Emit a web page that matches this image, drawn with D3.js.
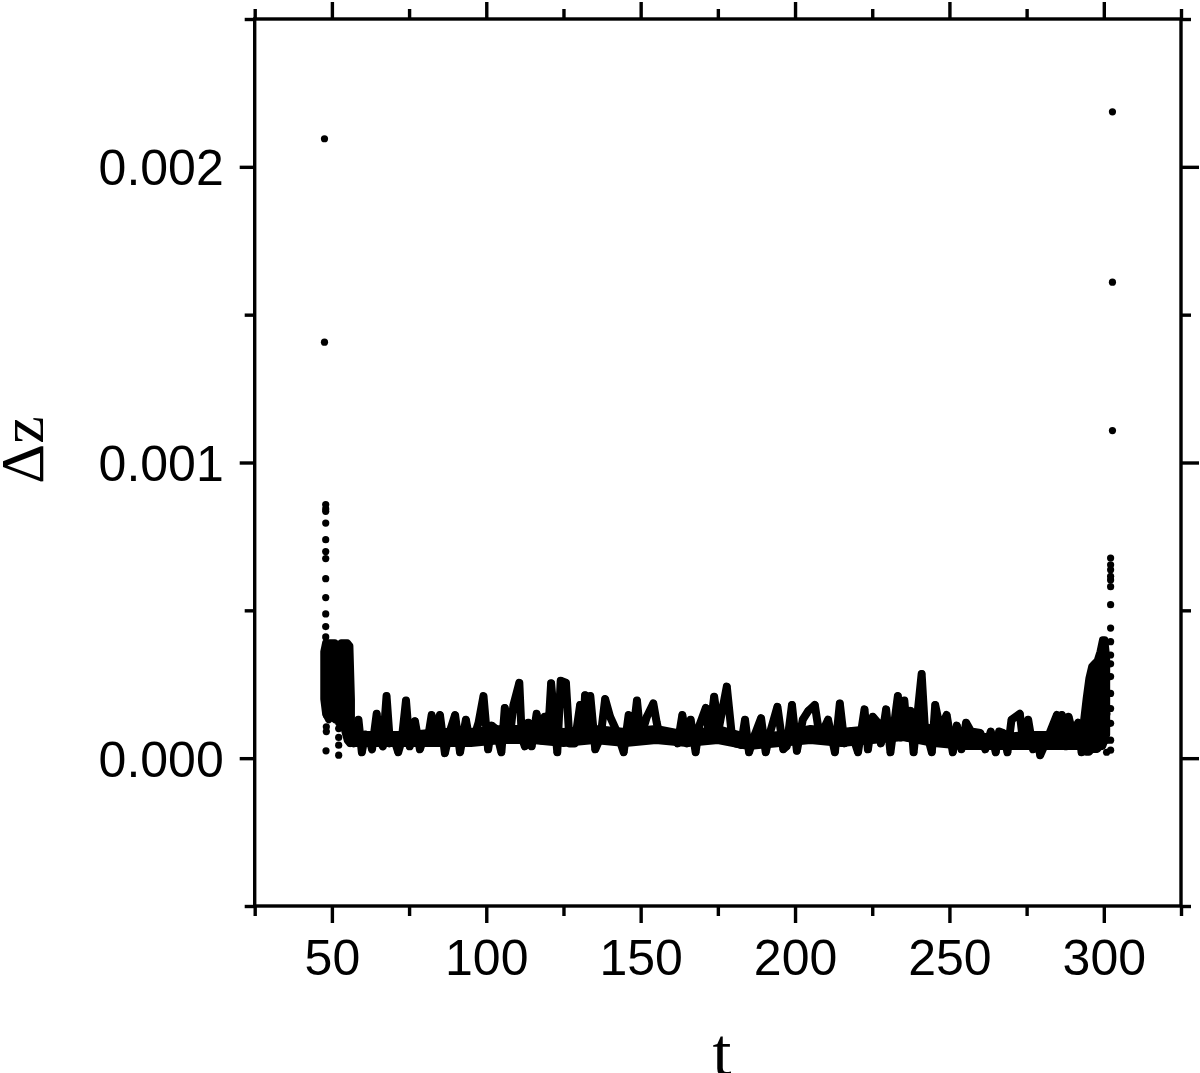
<!DOCTYPE html>
<html>
<head>
<meta charset="utf-8">
<script src="https://cdn.jsdelivr.net/npm/d3@7"></script>
<style>
  body { margin: 0; background: #fff; }
  .tick-label { font-family: "Liberation Sans", Arial, sans-serif; font-size: 50px; fill: #000; }
  .axis-title { font-family: "Liberation Serif", "Times New Roman", serif; fill: #000; }
</style>
</head>
<body>
<svg id="chart" width="1200" height="1073"></svg>
<script>
// Δz is kept in units of 1e-3 (the axis prints it back as 0.001, 0.002 ...)

// slow part of the signal, read peak by peak
var mainT = [56.0, 57.2, 58.6, 59.7, 60.8, 62.0, 63.0, 64.5, 65.5, 66.5, 67.7, 68.8, 70.0, 71.5, 72.6,
  74.0, 75.2, 76.9, 78.5, 79.8, 81.0, 82.3, 83.6, 85.0, 86.6, 88.2, 89.9, 91.5, 93.4, 94.6, 96.0,
  97.5, 99.1, 100.6, 101.8, 103.0, 104.9, 106.0, 107.6, 108.8, 110.7, 111.5, 112.5, 113.6, 114.7,
  116.3, 117.9, 118.9, 119.9, 121.0, 123.0, 124.1, 125.8, 127.0, 128.6, 130.4, 131.2, 132.0, 132.8,
  133.7, 135.3, 137.0, 138.5, 140.1, 142.3, 144.5, 146.1, 147.5, 148.8, 150.0, 152.0, 154.1, 155.2,
  156.3, 158.5, 160.8, 162.0, 163.5, 165.1, 166.2, 167.8, 169.0, 171.1, 172.2, 173.8, 175.3, 177.9,
  179.5, 180.7, 182.5, 183.8, 185.1, 187.0, 189.0, 190.5, 192.0, 194.3, 196.2, 197.3, 199.0, 200.6,
  202.5, 204.3, 206.4, 208.0, 210.7, 212.9, 214.5, 216.0, 218.2, 220.4, 222.5, 223.6, 225.2, 226.8,
  227.8, 229.5, 230.9, 233.3, 234.3, 235.4, 236.4, 237.4, 238.4, 241.0, 242.0, 244.3, 245.4, 247.0,
  249.1, 251.1, 252.4, 253.9, 255.4, 257.0, 260.0, 261.6, 263.4, 265.0, 266.1, 267.4, 268.8, 270.1,
  272.8, 273.9, 275.5, 277.1, 278.5, 279.4, 281.5, 284.8, 285.6, 286.4, 287.8, 288.6, 290.0, 291.7,
  292.8, 293.8];
var mainDz = [0.08, 0.05, 0.13, 0.02, 0.08, 0.07, 0.03, 0.15, 0.06, 0.04, 0.21, 0.05, 0.07, 0.02, 0.06,
  0.195, 0.04, 0.125, 0.03, 0.07, 0.06, 0.146, 0.08, 0.146, 0.017, 0.09, 0.146, 0.02, 0.13, 0.06, 0.07,
  0.12, 0.21, 0.03, 0.11, 0.10, 0.02, 0.17, 0.07, 0.18, 0.255, 0.07, 0.04, 0.12, 0.04,
  0.15, 0.06, 0.14, 0.06, 0.253, 0.02, 0.262, 0.255, 0.05, 0.05, 0.18, 0.06, 0.213, 0.08,
  0.21, 0.03, 0.07, 0.20, 0.14, 0.09, 0.02, 0.146, 0.08, 0.195, 0.07, 0.14, 0.185, 0.12,
  0.07, 0.08, 0.08, 0.05, 0.146, 0.05, 0.13, 0.02, 0.11, 0.17, 0.07, 0.208, 0.10, 0.242,
  0.08, 0.05, 0.045, 0.13, 0.02, 0.08, 0.135, 0.02, 0.09, 0.174, 0.03, 0.04, 0.18, 0.025,
  0.13, 0.16, 0.18, 0.07, 0.13, 0.02, 0.185, 0.05, 0.09, 0.02, 0.165, 0.03, 0.14, 0.12,
  0.05, 0.165, 0.02, 0.21, 0.07, 0.195, 0.07, 0.16, 0.02, 0.285, 0.11, 0.02, 0.18, 0.10,
  0.146, 0.02, 0.11, 0.03, 0.12, 0.09, 0.085, 0.03, 0.09, 0.02, 0.09, 0.085, 0.02, 0.13,
  0.15, 0.05, 0.13, 0.03, 0.06, 0.01, 0.06, 0.146, 0.06, 0.146, 0.04, 0.14, 0.08, 0.12,
  0.02, 0.10];

// where the slow part is so dense that the points fill a solid strip
var coreT  = [56, 65, 75, 85, 95, 105, 115, 125, 135, 145, 155, 165, 175, 185, 195, 205, 215, 225, 235, 245, 255, 265, 275, 285, 293];
var coreLo = [0.05, 0.05, 0.05, 0.05, 0.05, 0.06, 0.06, 0.05, 0.06, 0.05, 0.06, 0.05, 0.06, 0.04, 0.05, 0.06, 0.05, 0.06, 0.07, 0.05, 0.04, 0.04, 0.04, 0.04, 0.04];
var coreHi = [0.08, 0.08, 0.08, 0.09, 0.09, 0.10, 0.10, 0.09, 0.10, 0.09, 0.10, 0.08, 0.10, 0.07, 0.08, 0.10, 0.09, 0.10, 0.12, 0.10, 0.08, 0.07, 0.08, 0.08, 0.08];

// fast oscillation at the start and the end: the range the points fill at each time
var startBandT  = [47.4, 48.0, 49.0, 50.0, 51.0, 52.0, 53.0, 54.0, 55.0, 55.8, 56.3];
var startBandLo = [0.20, 0.15, 0.13, 0.14, 0.13, 0.16, 0.12, 0.10, 0.06, 0.05, 0.06];
var startBandHi = [0.36, 0.39, 0.39, 0.39, 0.39, 0.38, 0.39, 0.39, 0.39, 0.38, 0.20];

var endBandT  = [293.4, 294.3, 295.2, 296.1, 297.0, 297.9, 298.8, 299.6, 300.3, 300.9];
var endBandLo = [0.03, 0.02, 0.02, 0.03, 0.03, 0.03, 0.04, 0.04, 0.06, 0.08];
var endBandHi = [0.12, 0.20, 0.27, 0.31, 0.32, 0.33, 0.36, 0.40, 0.40, 0.34];

// single points standing out of the bands
var looseT  = [47.6, 47.6, 48.0, 48.0, 48.0, 48.0, 48.0, 48.0, 48.0, 48.0, 48.0, 48.0, 48.0, 48.0,
  48.2, 48.2, 48.2, 48.1, 52.2, 52.2, 52.2, 52.2, 52.2,
  300.9, 300.9, 301.0, 301.0, 301.2,
  302.2, 302.2, 302.2, 302.2, 302.2, 302.2, 302.2, 302.2, 302.2, 302.2, 302.2, 302.2, 302.2,
  302.2, 302.2, 302.2, 302.2, 302.8, 302.8, 302.8];
var looseDz = [1.407, 2.095, 0.41, 0.445, 0.488, 0.543, 0.607, 0.675, 0.699, 0.739, 0.795, 0.835, 0.843, 0.858,
  0.146, 0.106, 0.09, 0.025, 0.1, 0.07, 0.044, 0.01, 0.12,
  0.02, 0.06, 0.15, 0.22, 0.12,
  0.027, 0.061, 0.118, 0.168, 0.219, 0.276, 0.319, 0.349, 0.394, 0.44, 0.519, 0.58, 0.603,
  0.615, 0.637, 0.654, 0.677, 1.108, 1.61, 2.186];

var xMajor = [50, 100, 150, 200, 250, 300];
var xMinor = [25, 75, 125, 175, 225, 275, 325];
var yMajor = [0, 1, 2];
var yMinor = [-0.5, 0.5, 1.5, 2.5];

var svg = d3.select('#chart');

// plot frame in pixels
var frameL = 254.7, frameR = 1181, frameT = 19, frameB = 906;

var x = d3.scaleLinear().domain([25, 325]).range([frameL, frameR]);
var y = d3.scaleLinear().domain([-0.5, 2.5]).range([frameB, frameT]);

var r = 3.6;

var mainPts = mainT.map(function(t, i) { return [t, mainDz[i]]; });
var loosePts = looseT.map(function(t, i) { return [t, looseDz[i]]; });

var band = function(ts, lo, hi) {
  return ts.map(function(t, i) { return {t: t, lo: lo[i], hi: hi[i]}; });
};

var plot = svg.append('g');

// solid regions: a filled band with a stroke so its edges are as round as the dots
var area = d3.area()
  .x(function(d) { return x(d.t); })
  .y0(function(d) { return y(d.lo); })
  .y1(function(d) { return y(d.hi); });

plot.selectAll('path.band')
  .data([band(startBandT, startBandLo, startBandHi), band(endBandT, endBandLo, endBandHi), band(coreT, coreLo, coreHi)])
  .enter().append('path')
  .attr('class', 'band')
  .attr('fill', '#000')
  .attr('stroke', '#000')
  .attr('stroke-width', r * 2)
  .attr('stroke-linejoin', 'round')
  .attr('d', area);

// points are so dense here that they merge into a thick trace
plot.append('path')
  .datum(mainPts)
  .attr('fill', 'none')
  .attr('stroke', '#000')
  .attr('stroke-width', 8)
  .attr('stroke-linejoin', 'round')
  .attr('stroke-linecap', 'round')
  .attr('d', d3.line().x(function(d) { return x(d[0]); }).y(function(d) { return y(d[1]); }));

plot.selectAll('circle.pt')
  .data(mainPts.concat(loosePts))
  .enter().append('circle')
  .attr('class', 'pt')
  .attr('cx', function(d) { return x(d[0]); })
  .attr('cy', function(d) { return y(d[1]); })
  .attr('r', r)
  .attr('fill', '#000');

//axes: major ticks 17px, minor 10px, all pointing outward
var styleAxis = function(g) {
  g.attr('font-family', null).attr('font-size', null);
  g.select('.domain').remove();
  g.selectAll('.tick line').attr('stroke', '#000').attr('stroke-width', 3.4);
  g.selectAll('.tick text').attr('class', 'tick-label').attr('fill', '#000').attr('dy', null);
};

svg.append('g').attr('transform', 'translate(0,' + frameB + ')')
  .call(d3.axisBottom(x).tickValues(xMajor).tickSize(17).tickFormat(d3.format('d')))
  .call(styleAxis)
  .call(function(g) { g.selectAll('text').attr('y', 69); });
svg.append('g').attr('transform', 'translate(0,' + frameB + ')')
  .call(d3.axisBottom(x).tickValues(xMinor).tickSize(10).tickFormat(''))
  .call(styleAxis);
svg.append('g').attr('transform', 'translate(0,' + frameT + ')')
  .call(d3.axisTop(x).tickValues(xMajor).tickSize(17).tickFormat(''))
  .call(styleAxis);
svg.append('g').attr('transform', 'translate(0,' + frameT + ')')
  .call(d3.axisTop(x).tickValues(xMinor).tickSize(10).tickFormat(''))
  .call(styleAxis);

svg.append('g').attr('transform', 'translate(' + frameL + ',0)')
  .call(d3.axisLeft(y).tickValues(yMajor).tickSize(15).tickFormat(function(d) { return (d / 1000).toFixed(3); }))
  .call(styleAxis)
  .call(function(g) { g.selectAll('text').attr('y', 18).attr('x', -31); });
svg.append('g').attr('transform', 'translate(' + frameL + ',0)')
  .call(d3.axisLeft(y).tickValues(yMinor).tickSize(10).tickFormat(''))
  .call(styleAxis);
svg.append('g').attr('transform', 'translate(' + frameR + ',0)')
  .call(d3.axisRight(y).tickValues(yMajor).tickSize(18).tickFormat(''))
  .call(styleAxis);
svg.append('g').attr('transform', 'translate(' + frameR + ',0)')
  .call(d3.axisRight(y).tickValues(yMinor).tickSize(10).tickFormat(''))
  .call(styleAxis);

// frame
svg.append('rect')
  .attr('x', frameL).attr('y', frameT)
  .attr('width', frameR - frameL).attr('height', frameB - frameT)
  .attr('fill', 'none').attr('stroke', '#000').attr('stroke-width', 3.4);

// titles
svg.append('text')
  .attr('class', 'axis-title')
  .attr('font-size', 68)
  .attr('x', 722).attr('y', 1075)
  .attr('text-anchor', 'middle')
  .text('t');

svg.append('text')
  .attr('class', 'axis-title')
  .attr('font-size', 62)
  .attr('transform', 'translate(43,450) rotate(-90)')
  .attr('text-anchor', 'middle')
  .text('Δz');
</script>
</body>
</html>
